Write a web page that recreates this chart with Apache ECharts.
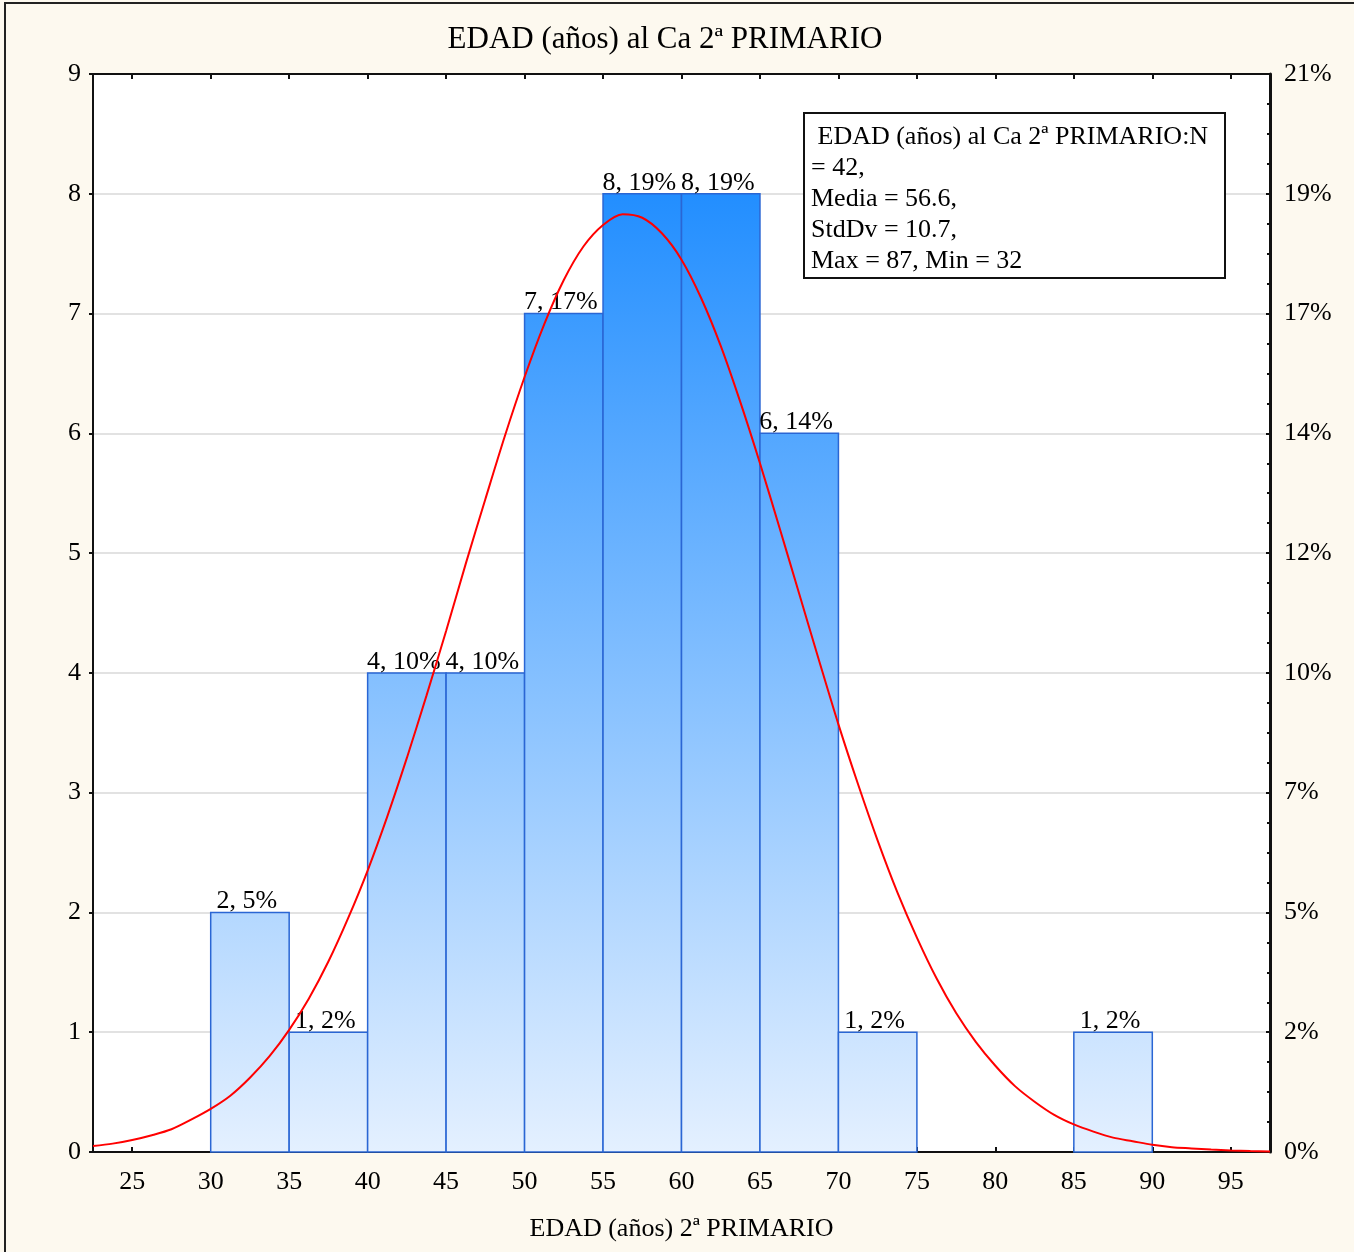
<!DOCTYPE html>
<html><head><meta charset="utf-8">
<script src="https://cdn.jsdelivr.net/npm/echarts@6/dist/echarts.min.js"></script>
<style>html,body{margin:0;padding:0;background:#fdf9ef}#c{width:1354px;height:1252px}</style>
</head><body><div id="c"></div><script>
// ---- data ----
const binStarts = [30, 35, 40, 45, 50, 55, 60, 65, 70, 85];
const binEnds   = [35, 40, 45, 50, 55, 60, 65, 70, 75, 90];
const counts    = [2, 1, 4, 4, 7, 8, 8, 6, 1, 1];
const N = 42;
const xTicks = [25, 30, 35, 40, 45, 50, 55, 60, 65, 70, 75, 80, 85, 90, 95];
// fitted normal curve
const curveX = [22.5, 23.75, 25, 26.25, 27.5, 28.75, 30, 31.25, 32.5, 33.75, 35, 36.25, 37.5, 38.75, 40, 41.25, 42.5, 43.75, 45, 46.25, 47.5, 48.75, 50, 51.25, 52.5, 53.75, 55, 56.25, 57.5, 58.75, 60, 61.25, 62.5, 63.75, 65, 66.25, 67.5, 68.75, 70, 71.25, 72.5, 73.75, 75, 76.25, 77.5, 78.75, 80, 81.25, 82.5, 83.75, 85, 86.25, 87.5, 88.75, 90, 91.25, 92.5, 93.75, 95, 96.25, 97.5];
const curveY = [0.05, 0.07, 0.10, 0.14, 0.19, 0.27, 0.36, 0.47, 0.62, 0.80, 1.02, 1.28, 1.59, 1.95, 2.35, 2.80, 3.29, 3.81, 4.35, 4.91, 5.45, 5.98, 6.47, 6.91, 7.28, 7.56, 7.74, 7.83, 7.80, 7.67, 7.45, 7.13, 6.73, 6.26, 5.75, 5.21, 4.66, 4.11, 3.57, 3.07, 2.60, 2.17, 1.79, 1.45, 1.16, 0.92, 0.72, 0.55, 0.42, 0.31, 0.23, 0.17, 0.12, 0.09, 0.06, 0.04, 0.03, 0.02, 0.013, 0.008, 0.005];
const titleText = 'EDAD (años) al Ca 2ª PRIMARIO';
const xName = 'EDAD (años) 2ª PRIMARIO';
const statLines = [' EDAD (años) al Ca 2ª PRIMARIO:N', '= 42,', 'Media = 56.6,', 'StdDv = 10.7,', 'Max = 87, Min = 32'];

const FONT = '"Liberation Serif", "Times New Roman", serif';
const chart = echarts.init(document.getElementById('c'), null, {renderer: 'canvas'});

const barData = binStarts.map((s, i) => [s, binEnds[i], counts[i]]);
const curveData = curveX.map((x, i) => [x, curveY[i]]);

const statText = statLines.map((t, i) => ({
  type: 'text', left: 811, top: 124 + i * 31,
  style: {text: t, font: '26px ' + FONT, fill: '#000'}, z: 20
}));

chart.setOption({
  backgroundColor: '#fdf9ef',
  animation: false,
  grid: {left: 93, top: 74, right: 84, bottom: 100, show: true, backgroundColor: '#ffffff', borderWidth: 0},
  xAxis: [{
    type: 'value', min: 22.5, max: 97.5, position: 'bottom',
    name: xName, nameLocation: 'middle', nameGap: 64,
    nameTextStyle: {fontFamily: FONT, fontSize: 26, color: '#000'},
    axisLine: {show: true, onZero: false, lineStyle: {color: '#111', width: 2}},
    axisTick: {show: true, inside: true, length: 5, customValues: xTicks, lineStyle: {color: '#111', width: 2}},
    axisLabel: {customValues: xTicks, fontFamily: FONT, fontSize: 26, color: '#000', margin: 17},
    splitLine: {show: false}
  }, {
    type: 'value', min: 22.5, max: 97.5, position: 'top',
    axisLine: {show: true, onZero: false, lineStyle: {color: '#111', width: 2}},
    axisTick: {show: true, inside: true, length: 5, customValues: xTicks, lineStyle: {color: '#111', width: 2}},
    axisLabel: {show: false},
    splitLine: {show: false}
  }],
  yAxis: [{
    type: 'value', min: 0, max: 9, interval: 1, position: 'left',
    axisLine: {show: true, lineStyle: {color: '#111', width: 2}},
    axisTick: {show: true, inside: false, length: 4, lineStyle: {color: '#111', width: 2}},
    axisLabel: {fontFamily: FONT, fontSize: 26, color: '#000', margin: 12},
    splitLine: {show: true, lineStyle: {color: '#d9d9d9', width: 1.5}}
  }, {
    type: 'value', min: 0, max: 9, interval: 1, position: 'right',
    axisLine: {show: true, lineStyle: {color: '#111', width: 3}},
    axisTick: {show: true, inside: true, length: 4, lineStyle: {color: '#111', width: 2}},
    minorTick: {show: true, splitNumber: 4, length: 3, lineStyle: {color: '#111', width: 2}},
    axisLabel: {fontFamily: FONT, fontSize: 26, color: '#000', margin: 14,
      formatter: v => Math.round(v / N * 100) + '%'},
    splitLine: {show: false}
  }],
  graphic: [
    {type: 'rect', shape: {x: 5, y: 3, width: 1400, height: 1300}, style: {fill: 'none', stroke: '#222', lineWidth: 2}, z: 0, silent: true},
    {type: 'text', x: 665, y: 40, style: {text: titleText, font: '31px ' + FONT, fill: '#000', textAlign: 'center', textVerticalAlign: 'middle'}, z: 20},
    {type: 'rect', shape: {x: 804, y: 113, width: 421, height: 165}, style: {fill: '#fff', stroke: '#111', lineWidth: 2}, z: 19},
    ...statText
  ],
  series: [{
    type: 'custom', xAxisIndex: 0, yAxisIndex: 0, data: barData, z: 2,
    renderItem: function (params, api) {
      const s = api.value(0), e = api.value(1), c = api.value(2);
      const p0 = api.coord([s, c]), p1 = api.coord([e, 0]);
      const gTop = api.coord([s, 9])[1], gBot = api.coord([s, 0])[1];
      const grad = new echarts.graphic.LinearGradient(0, gTop, 0, gBot, [
        {offset: 0, color: 'rgb(10,130,255)'},
        {offset: 1, color: 'rgb(228,240,255)'}
      ], true);
      const pct = Math.round(c / N * 100);
      return {type: 'group', children: [
        {type: 'rect', shape: {x: p0[0], y: p0[1], width: p1[0] - p0[0], height: p1[1] - p0[1]},
          style: {fill: grad, stroke: '#2a66d4', lineWidth: 1.5}},
        {type: 'text', x: (p0[0] + p1[0]) / 2 - 3, y: p0[1] + 2, z2: 10,
          style: {text: c + ', ' + pct + '%', textAlign: 'center', textVerticalAlign: 'bottom', font: '26px ' + FONT, fill: '#000'}}
      ]};
    }
  }, {
    type: 'line', xAxisIndex: 0, yAxisIndex: 0, data: curveData, smooth: 0.3, showSymbol: false, z: 5,
    lineStyle: {color: '#ff0000', width: 2}, clip: true
  }]
});
</script></body></html>
